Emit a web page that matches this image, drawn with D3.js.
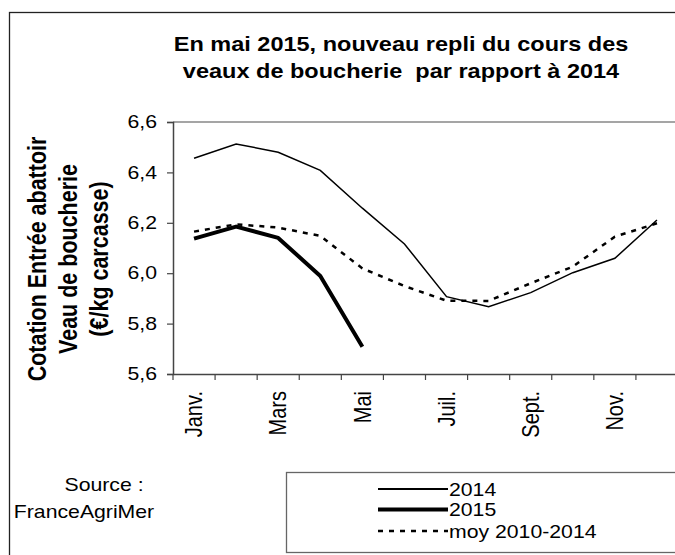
<!DOCTYPE html>
<html lang="fr">
<head>
<meta charset="UTF-8">
<script src="https://cdn.jsdelivr.net/npm/d3@7"></script>
<style>
  body { margin: 0; background: white; }
  svg { display: block; font-family: "Liberation Sans", Arial, sans-serif; }
</style>
</head>
<body>
<div id="chart"></div>
<script>
  const months = ["Janv.", "Févr.", "Mars", "Avr.", "Mai", "Juin", "Juil.", "Août", "Sept.", "Oct.", "Nov.", "Déc."];
  const yTicks = [5.6, 5.8, 6.0, 6.2, 6.4, 6.6];
  const v2014 = [6.456, 6.513, 6.480, 6.408, 6.258, 6.116, 5.907, 5.867, 5.923, 6.002, 6.059, 6.211];
  const v2015 = [6.137, 6.185, 6.140, 5.989, 5.708];
  const vMoy = [6.165, 6.194, 6.181, 6.148, 6.019, 5.949, 5.891, 5.890, 5.960, 6.026, 6.145, 6.198];

  const width = 675, height = 555;
  const SX = 1.18; // the original picture is a little wider than tall
  const font = "Liberation Sans, Arial, sans-serif";

  const svg = d3.select("#chart").append("svg")
    .attr("width", width)
    .attr("height", height);

  // outer frame (runs past the right and bottom edges)
  svg.append("rect")
    .attr("x", 9.5).attr("y", 12.5)
    .attr("width", 700).attr("height", 600)
    .attr("fill", "none").attr("stroke", "#222").attr("stroke-width", 1.3);

  const plot = { left: 173, top: 122, right: 678, bottom: 374 };

  const x = d3.scaleBand().domain(months).range([plot.left, plot.right]).padding(0);
  const y = d3.scaleLinear().domain([5.6, 6.6]).range([plot.bottom, plot.top]);

  svg.append("path")
    .attr("d", `M${plot.left},${plot.top}H${plot.right}V${plot.bottom}`)
    .attr("fill", "none").attr("stroke", "#888").attr("stroke-width", 1.5);

  // title
  const titleLines = ["En mai 2015, nouveau repli du cours des", "veaux de boucherie  par rapport à 2014"];
  svg.selectAll(".title").data(titleLines).join("text")
    .attr("class", "title")
    .attr("transform", (d, i) => `translate(401,${51 + i * 27}) scale(1.12,1)`)
    .attr("text-anchor", "middle")
    .attr("font-weight", "bold")
    .attr("font-size", 21)
    .style("white-space", "pre")
    .text(d => d);

  // y axis
  const yAxis = svg.append("g")
    .attr("transform", `translate(${plot.left},0)`)
    .call(d3.axisLeft(y).tickValues(yTicks).tickSize(6).tickFormat(d => d3.format(".1f")(d).replace(".", ",")));
  yAxis.select(".domain").attr("stroke", "#444").attr("stroke-width", 1.5);
  yAxis.selectAll(".tick line").attr("stroke", "#444").attr("stroke-width", 1.2);
  yAxis.selectAll(".tick text")
    .attr("x", 0)
    .attr("transform", `translate(-16,0) scale(${SX},1)`)
    .attr("font-size", 18)
    .attr("fill", "#000")
    .attr("font-family", font);

  // x axis
  const xAxis = svg.append("g")
    .attr("transform", `translate(0,${plot.bottom})`)
    .call(d3.axisBottom(x).tickSize(6).tickSizeOuter(0).tickFormat((d, i) => i % 2 === 0 ? d : ""));
  xAxis.select(".domain").attr("stroke", "#444").attr("stroke-width", 1.5);
  xAxis.selectAll(".tick line")
    .attr("x1", -x.bandwidth() / 2).attr("x2", -x.bandwidth() / 2)
    .attr("stroke", "#444").attr("stroke-width", 1.2);
  xAxis.selectAll(".tick text")
    .attr("transform", `translate(0,17) scale(${SX},1) rotate(-90)`)
    .attr("text-anchor", "end")
    .attr("x", 0)
    .attr("y", 0)
    .attr("dy", "0.35em")
    .attr("font-size", 20)
    .attr("fill", "#000")
    .attr("font-family", font);

  // y axis title
  const yTitleLines = ["Cotation Entrée abattoir", "Veau de boucherie", "(€/kg carcasse)"];
  svg.selectAll(".ytitle").data(yTitleLines).join("text")
    .attr("class", "ytitle")
    .attr("transform", (d, i) => `translate(${46 + i * 31},259) scale(${SX},1) rotate(-90)`)
    .attr("text-anchor", "middle")
    .attr("font-weight", "bold")
    .attr("font-size", 21.5)
    .text(d => d);

  const line = d3.line()
    .x((d, i) => x(months[i]) + x.bandwidth() / 2)
    .y(d => y(d));

  svg.append("path").datum(vMoy)
    .attr("d", line).attr("fill", "none")
    .attr("stroke", "#000").attr("stroke-width", 2.5).attr("stroke-dasharray", "5,6");
  svg.append("path").datum(v2014)
    .attr("d", line).attr("fill", "none")
    .attr("stroke", "#000").attr("stroke-width", 1.5);
  svg.append("path").datum(v2015)
    .attr("d", line).attr("fill", "none")
    .attr("stroke", "#000").attr("stroke-width", 4).attr("stroke-linejoin", "round");

  // source
  svg.append("text")
    .attr("transform", `translate(104,491) scale(${SX},1)`)
    .attr("text-anchor", "middle").attr("font-size", 18)
    .text("Source :");
  svg.append("text")
    .attr("transform", `translate(84,518) scale(${SX},1)`)
    .attr("text-anchor", "middle").attr("font-size", 18)
    .text("FranceAgriMer");

  // legend
  svg.append("rect")
    .attr("x", 286.5).attr("y", 472.5).attr("width", 500).attr("height", 80)
    .attr("fill", "none").attr("stroke", "#666").attr("stroke-width", 1.3);
  const legendItems = [
    { name: "2014", w: 2, dash: null, y: 489 },
    { name: "2015", w: 4, dash: null, y: 509.5 },
    { name: "moy 2010-2014", w: 2.5, dash: "5,6", y: 531 }
  ];
  const lg = svg.append("g").selectAll("g").data(legendItems).join("g");
  lg.append("line")
    .attr("x1", 378).attr("x2", 448)
    .attr("y1", d => d.y).attr("y2", d => d.y)
    .attr("stroke", "#000")
    .attr("stroke-width", d => d.w)
    .attr("stroke-dasharray", d => d.dash);
  lg.append("text")
    .attr("transform", d => `translate(449,${d.y + 6.5}) scale(${SX},1)`)
    .attr("font-size", 18)
    .text(d => d.name);
</script>
</body>
</html>
